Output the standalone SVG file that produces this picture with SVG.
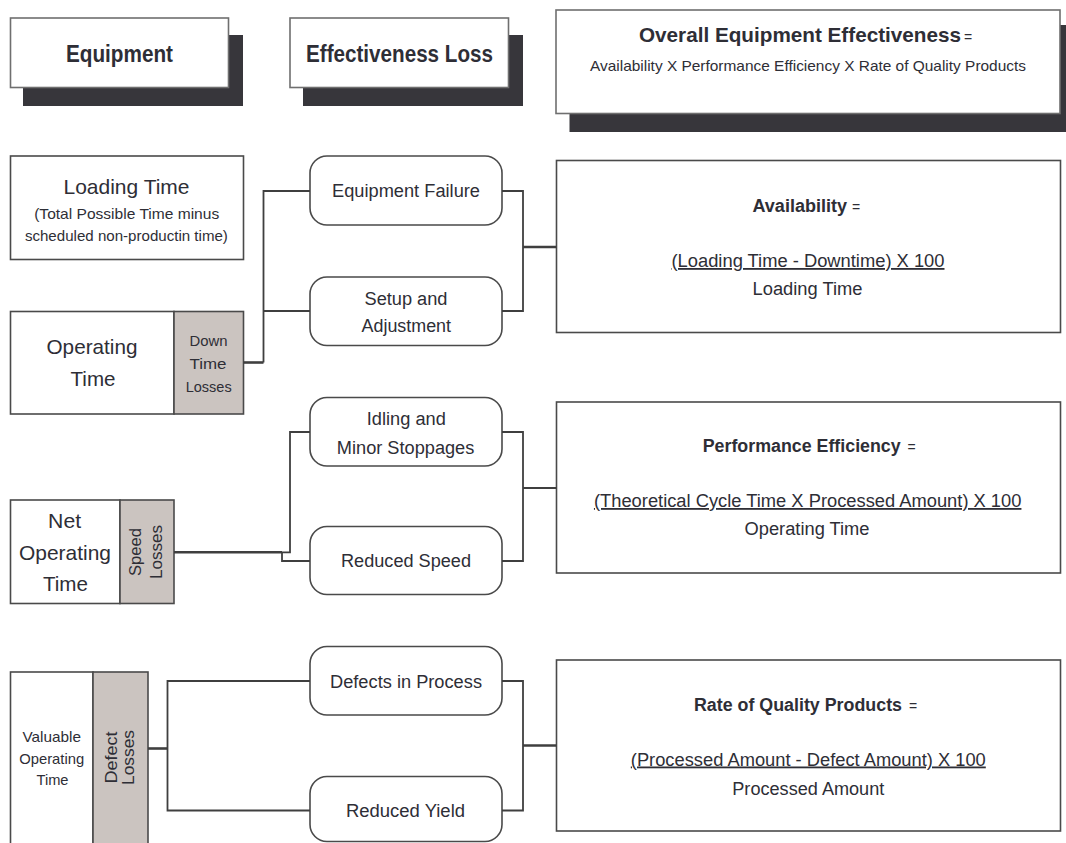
<svg xmlns="http://www.w3.org/2000/svg" width="1066" height="843" viewBox="0 0 1066 843">
  <style>
    .bg { fill: #ffffff; }
    .shadow { fill: #37363b; }
    .hdr { fill: #ffffff; stroke: #6f6f6f; stroke-width: 1.6; }
    .box { fill: #ffffff; stroke: #4a4a4a; stroke-width: 1.6; }
    .loss { fill: #cbc4c0; stroke: #4a4a4a; stroke-width: 1.6; }
    .pill { fill: #ffffff; stroke: #4a4a4a; stroke-width: 1.6; }
    .wire { fill: none; stroke: #3f3f3f; stroke-width: 1.8; }
    .stub { fill: none; stroke: #3f3f3f; stroke-width: 2.6; }
    text { font-family: "Liberation Sans", Arial, Helvetica, sans-serif; fill: #2e2e36; }
    .h { font-size: 24px; font-weight: bold; text-anchor: middle; }
    .hs { font-weight: bold; }
    .eq { font-size: 14px; }
    .c { text-anchor: middle; }
    .t18 { font-size: 18px; }
    .t21 { font-size: 21px; }
    .t15 { font-size: 15px; }
    .t17 { font-size: 17px; }
  </style>

  <rect class="bg" x="0" y="0" width="1066" height="843"/>

  <!-- column headers -->
  <g id="hdr-equipment">
    <rect class="shadow" x="23" y="35" width="220" height="71"/>
    <rect class="hdr" x="10.5" y="18" width="218" height="69.5"/>
    <text class="h" x="119.5" y="62" textLength="107" lengthAdjust="spacingAndGlyphs">Equipment</text>
  </g>
  <g id="hdr-loss">
    <rect class="shadow" x="303" y="35" width="220" height="71"/>
    <rect class="hdr" x="290" y="18" width="218.5" height="69.5"/>
    <text class="h" x="399.5" y="62" textLength="187" lengthAdjust="spacingAndGlyphs">Effectiveness Loss</text>
  </g>
  <g id="hdr-oee">
    <rect class="shadow" x="569.5" y="25" width="510" height="107"/>
    <rect class="hdr" x="556" y="10" width="504" height="103.5"/>
    <text class="hs" x="639" y="42" font-size="21" textLength="322" lengthAdjust="spacingAndGlyphs">Overall Equipment Effectiveness</text>
    <text class="eq" x="964" y="42">=</text>
    <text class="c" x="808" y="71" font-size="14.5" textLength="436" lengthAdjust="spacingAndGlyphs">Availability X Performance Efficiency X Rate of Quality Products</text>
  </g>

  <!-- equipment time blocks -->
  <g id="loading-time">
    <rect class="box" x="10.5" y="156" width="233" height="103.5"/>
    <text class="c t21" x="126.5" y="193.5" textLength="126" lengthAdjust="spacingAndGlyphs">Loading Time</text>
    <text class="c t15" x="126.7" y="218.5" textLength="185" lengthAdjust="spacingAndGlyphs">(Total Possible Time minus</text>
    <text class="c t15" x="126.4" y="241" textLength="203" lengthAdjust="spacingAndGlyphs">scheduled non-productin time)</text>
  </g>
  <g id="operating-time">
    <rect class="box" x="10.5" y="311.5" width="163.5" height="102.5"/>
    <rect class="loss" x="174" y="311.5" width="69.5" height="102.5"/>
    <text class="c t21" x="92" y="354" textLength="91" lengthAdjust="spacingAndGlyphs">Operating</text>
    <text class="c t21" x="93" y="386" textLength="45" lengthAdjust="spacingAndGlyphs">Time</text>
    <text class="c t15" x="208.5" y="346" textLength="38" lengthAdjust="spacingAndGlyphs">Down</text>
    <text class="c t15" x="208" y="368.5" textLength="37" lengthAdjust="spacingAndGlyphs">Time</text>
    <text class="c t15" x="208.7" y="392" textLength="46" lengthAdjust="spacingAndGlyphs">Losses</text>
  </g>
  <g id="net-operating-time">
    <rect class="box" x="10.5" y="500" width="109.5" height="103.5"/>
    <rect class="loss" x="120" y="500" width="54" height="103.5"/>
    <text class="c t21" x="64.6" y="528" textLength="33" lengthAdjust="spacingAndGlyphs">Net</text>
    <text class="c t21" x="65" y="560" textLength="92" lengthAdjust="spacingAndGlyphs">Operating</text>
    <text class="c t21" x="65.4" y="590.5" textLength="45" lengthAdjust="spacingAndGlyphs">Time</text>
    <g transform="translate(147 552) rotate(-90)">
      <text class="c t17" x="0" y="-6.5" textLength="48" lengthAdjust="spacingAndGlyphs">Speed</text>
      <text class="c t17" x="0" y="14.5" textLength="54" lengthAdjust="spacingAndGlyphs">Losses</text>
    </g>
  </g>
  <g id="valuable-operating-time">
    <rect class="box" x="10.5" y="672" width="82.5" height="190"/>
    <rect class="loss" x="93" y="672" width="55" height="190"/>
    <text class="c t15" x="51.7" y="742" textLength="58.5" lengthAdjust="spacingAndGlyphs">Valuable</text>
    <text class="c t15" x="51.7" y="763.5" textLength="65" lengthAdjust="spacingAndGlyphs">Operating</text>
    <text class="c t15" x="52.5" y="785" textLength="32" lengthAdjust="spacingAndGlyphs">Time</text>
    <g transform="translate(120 757.5) rotate(-90)">
      <text class="c t17" x="0" y="-3.5" textLength="52" lengthAdjust="spacingAndGlyphs">Defect</text>
      <text class="c t17" x="0" y="13.8" textLength="55" lengthAdjust="spacingAndGlyphs">Losses</text>
    </g>
  </g>

  <!-- loss categories -->
  <g id="equipment-failure">
    <rect class="pill" x="310" y="156" width="192" height="69" rx="17"/>
    <text class="c t18" x="406" y="197" textLength="148" lengthAdjust="spacingAndGlyphs">Equipment Failure</text>
  </g>
  <g id="setup-adjustment">
    <rect class="pill" x="310" y="277" width="192" height="68.5" rx="17"/>
    <text class="c t18" x="406" y="305" textLength="83" lengthAdjust="spacingAndGlyphs">Setup and</text>
    <text class="c t18" x="406.3" y="332" textLength="89.5" lengthAdjust="spacingAndGlyphs">Adjustment</text>
  </g>
  <g id="idling-minor-stoppages">
    <rect class="pill" x="310" y="397.5" width="192" height="68.5" rx="17"/>
    <text class="c t18" x="406.3" y="425" textLength="79" lengthAdjust="spacingAndGlyphs">Idling and</text>
    <text class="c t18" x="405.6" y="453.5" textLength="137.5" lengthAdjust="spacingAndGlyphs">Minor Stoppages</text>
  </g>
  <g id="reduced-speed">
    <rect class="pill" x="310" y="526.5" width="192" height="68" rx="17"/>
    <text class="c t18" x="406" y="567" textLength="130" lengthAdjust="spacingAndGlyphs">Reduced Speed</text>
  </g>
  <g id="defects-in-process">
    <rect class="pill" x="310" y="646.5" width="192" height="68.5" rx="17"/>
    <text class="c t18" x="406" y="687.5" textLength="152" lengthAdjust="spacingAndGlyphs">Defects in Process</text>
  </g>
  <g id="reduced-yield">
    <rect class="pill" x="310" y="776.5" width="192" height="65" rx="17"/>
    <text class="c t18" x="405.5" y="816.5" textLength="119" lengthAdjust="spacingAndGlyphs">Reduced Yield</text>
  </g>

  <!-- formula blocks -->
  <g id="availability">
    <rect class="box" x="556.5" y="160.5" width="504" height="172"/>
    <text class="hs t18" x="752.5" y="212" textLength="94.5" lengthAdjust="spacingAndGlyphs">Availability</text>
    <text class="eq" x="852" y="212">=</text>
    <text class="c t18" x="808" y="267" textLength="273" lengthAdjust="spacingAndGlyphs" text-decoration="underline">(Loading Time - Downtime) X 100</text>
    <text class="c t18" x="807.5" y="294.5" textLength="110" lengthAdjust="spacingAndGlyphs">Loading Time</text>
  </g>
  <g id="performance-efficiency">
    <rect class="box" x="556.5" y="402" width="504" height="171"/>
    <text class="hs t18" x="702.7" y="452" textLength="198" lengthAdjust="spacingAndGlyphs">Performance Efficiency</text>
    <text class="eq" x="907.5" y="452">=</text>
    <text class="c t18" x="807.7" y="507" textLength="427.5" lengthAdjust="spacingAndGlyphs" text-decoration="underline">(Theoretical Cycle Time X Processed Amount) X 100</text>
    <text class="c t18" x="807" y="534.5" textLength="125" lengthAdjust="spacingAndGlyphs">Operating Time</text>
  </g>
  <g id="rate-of-quality">
    <rect class="box" x="556.5" y="660" width="504" height="171"/>
    <text class="hs t18" x="694" y="710.5" textLength="208" lengthAdjust="spacingAndGlyphs">Rate of Quality Products</text>
    <text class="eq" x="909" y="710.5">=</text>
    <text class="c t18" x="808.3" y="765.5" textLength="355" lengthAdjust="spacingAndGlyphs" text-decoration="underline">(Processed Amount - Defect Amount) X 100</text>
    <text class="c t18" x="808.3" y="794.5" textLength="152" lengthAdjust="spacingAndGlyphs">Processed Amount</text>
  </g>

  <!-- connectors -->
  <g id="connectors">
    <path class="stub" d="M243.5,362.5 H263.5"/>
    <path class="wire" d="M263.5,362.5 V191 H310 M263.5,311 H310"/>
    <path class="wire" d="M502,191 H523 V311 H502"/>
    <path class="stub" d="M523,247 H556.5"/>

    <path class="stub" d="M174,552.3 H282"/>
    <path class="wire" d="M282,552.3 H290 V432 H310 M282,552.3 V561 H310"/>
    <path class="wire" d="M502,432 H523 V561 H502"/>
    <path class="wire" d="M523,488 H556.5"/>

    <path class="stub" d="M148,748.5 H167.5"/>
    <path class="wire" d="M310,681 H167.5 V810.5 H310"/>
    <path class="wire" d="M502,681 H523 V810.5 H502"/>
    <path class="stub" d="M523,745.5 H556.5"/>
  </g>
</svg>
